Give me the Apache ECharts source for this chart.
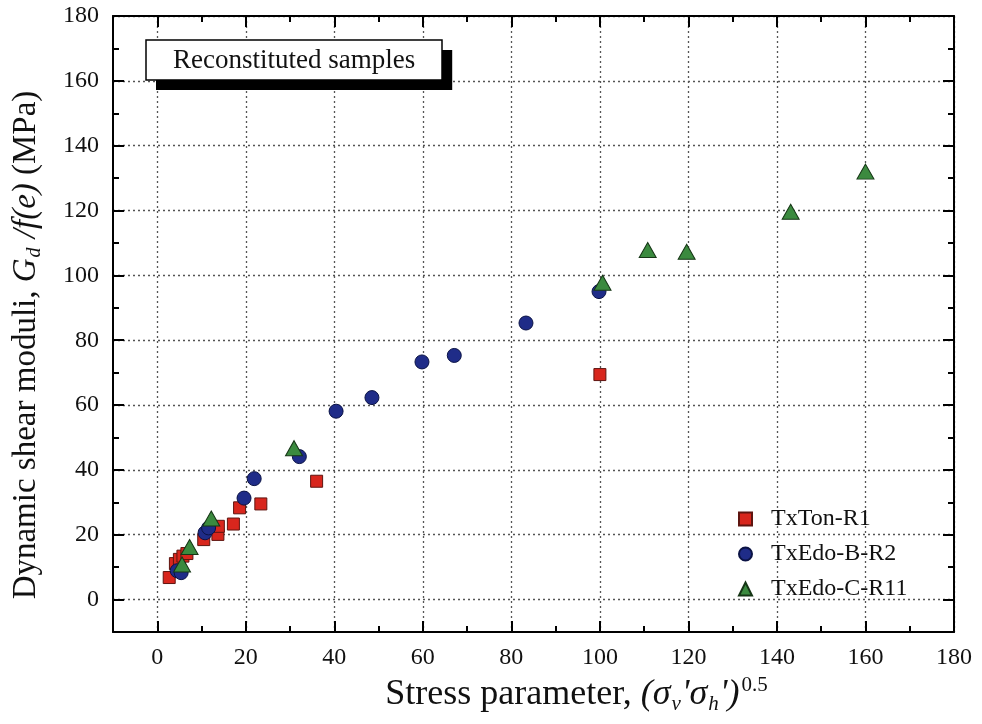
<!DOCTYPE html>
<html>
<head>
<meta charset="utf-8">
<script src="https://cdn.jsdelivr.net/npm/echarts@6/dist/echarts.min.js"></script>
<style>
html,body{margin:0;padding:0;background:#fff;}
#chart{width:982px;height:724px;}
</style>
</head>
<body>
<div id="chart"></div>
<script>
// ---- data ----
const seriesNames = ['TxTon-R1', 'TxEdo-B-R2', 'TxEdo-C-R11'];
const txTonR1 = [
  [2.7, 6.8], [4.1, 11.1], [5.0, 12.4], [5.8, 13.4], [6.7, 14.2],
  [10.5, 18.5], [13.7, 20.1], [13.8, 22.6], [17.2, 23.3], [18.6, 28.3],
  [23.4, 29.5], [36.0, 36.5], [100.0, 69.4]
];
const txEdoBR2 = [
  [4.5, 8.9], [5.4, 8.3], [10.8, 20.6], [11.6, 22.1], [19.6, 31.3],
  [21.9, 37.3], [32.1, 44.1], [40.4, 58.1], [48.5, 62.3], [59.8, 73.3],
  [67.1, 75.3], [83.3, 85.3], [99.8, 95.0]
];
const txEdoCR11 = [
  [5.6, 10.8], [7.3, 16.2], [12.2, 25.0], [30.9, 46.7], [100.6, 97.7],
  [110.8, 107.8], [119.6, 107.3], [143.1, 119.6], [160.0, 132.0]
];
const xTicks = [0, 20, 40, 60, 80, 100, 120, 140, 160, 180];
const yTicks = [0, 20, 40, 60, 80, 100, 120, 140, 160, 180];
const xRange = [-10, 180];
const yRange = [-10, 180];
const boxTitle = 'Reconstituted samples';

// ---- chart ----
const FONT = '"Liberation Serif", "DejaVu Serif", serif';
const chart = echarts.init(document.getElementById('chart'), null, {renderer: 'canvas'});

function majorAxis(pos, range, ticks, labels, extra) {
  return Object.assign({
    type: 'value', position: pos, min: range[0], max: range[1],
    axisLine: {show: true, onZero: false, lineStyle: {color: '#000', width: 2}},
    axisTick: {show: true, inside: true, length: 11, customValues: ticks, lineStyle: {color: '#000', width: 2}},
    axisLabel: labels ? {show: true, customValues: ticks, fontFamily: FONT, fontSize: 24, color: '#111', margin: 14} : {show: false},
    splitLine: {show: false}
  }, extra || {});
}
function minorAxis(pos, range) {
  return {
    type: 'value', position: pos, min: range[0], max: range[1], interval: 10,
    axisLine: {show: false, onZero: false},
    axisTick: {show: true, inside: true, length: 6, lineStyle: {color: '#000', width: 2}},
    axisLabel: {show: false},
    splitLine: {show: false}
  };
}
const gridLine = {show: true, lineStyle: {color: '#555', width: 1.3, type: [2, 3]}};

const xName = 'Stress parameter, {i|(σ}{sub|v}{i|\'σ}{sub|h}{i|\')}{sup|0.5}';
const yName = 'Dynamic shear moduli, {yi|G}{ysub|d}{yi| /f(e)} (MPa)';
const richText = {
  i: {fontFamily: FONT, fontSize: 36, fontStyle: 'italic', lineHeight: 40, color: '#111'},
  sub: {fontFamily: FONT, fontSize: 21, fontStyle: 'italic', lineHeight: 21, padding: [19, 1, 0, 1], color: '#111'},
  sup: {fontFamily: FONT, fontSize: 21, lineHeight: 21, padding: [0, 0, 19, 2], color: '#111'},
  yi: {fontFamily: FONT, fontSize: 33, fontStyle: 'italic', lineHeight: 37, color: '#111'},
  ysub: {fontFamily: FONT, fontSize: 20, fontStyle: 'italic', lineHeight: 20, padding: [17, 1, 0, 1], color: '#111'}
};
const titleText = {fontFamily: FONT, fontSize: 27, fontWeight: 'normal', lineHeight: 30};

const option = {
  backgroundColor: '#fff',
  animation: false,
  title: [
    {
      text: boxTitle,
      left: 156, top: 50, z: 1,
      padding: [5, 27, 5, 27],
      backgroundColor: '#000',
      textStyle: Object.assign({}, titleText, {color: 'rgba(0,0,0,0)'})
    },
    {
      text: boxTitle,
      left: 146, top: 40, z: 4,
      padding: [6, 27, 4, 27],
      backgroundColor: '#fff',
      borderColor: '#000', borderWidth: 1.5,
      textStyle: Object.assign({}, titleText, {color: '#111'})
    }
  ],
  legend: {
    orient: 'vertical', left: 733, top: 502,
    itemWidth: 13, itemHeight: 13, itemGap: 11,
    textStyle: {fontFamily: FONT, fontSize: 24, color: '#111', padding: [0, 0, 0, 14]},
    data: seriesNames
  },
  grid: {left: 113, right: 28, top: 16, bottom: 92, containLabel: false},
  xAxis: [
    majorAxis('bottom', xRange, xTicks, true, {
      splitLine: gridLine,
      name: xName, nameLocation: 'middle', nameGap: 33,
      nameTextStyle: {fontFamily: FONT, fontSize: 36, color: '#111', lineHeight: 40, padding: [0, 0, 0, 86], rich: richText}
    }),
    minorAxis('bottom', xRange),
    majorAxis('top', xRange, xTicks, false),
    minorAxis('top', xRange)
  ],
  yAxis: [
    majorAxis('left', yRange, yTicks, true, {
      splitLine: gridLine,
      name: yName, nameLocation: 'middle', nameGap: 68,
      nameTextStyle: {fontFamily: FONT, fontSize: 33, color: '#111', lineHeight: 37, padding: [0, 42, 0, 0], rich: richText}
    }),
    minorAxis('left', yRange),
    majorAxis('right', yRange, yTicks, false),
    minorAxis('right', yRange)
  ],
  series: [
    {
      name: seriesNames[0], type: 'scatter', data: txTonR1, xAxisIndex: 0, yAxisIndex: 0,
      symbol: 'rect', symbolSize: 12,
      itemStyle: {color: '#d8261d', borderColor: '#5e1510', borderWidth: 1, opacity: 1}
    },
    {
      name: seriesNames[1], type: 'scatter', data: txEdoBR2, xAxisIndex: 0, yAxisIndex: 0,
      symbol: 'circle', symbolSize: 14,
      itemStyle: {color: '#1f2c88', borderColor: '#0b1345', borderWidth: 1, opacity: 1}
    },
    {
      name: seriesNames[2], type: 'scatter', data: txEdoCR11, xAxisIndex: 0, yAxisIndex: 0,
      symbol: 'triangle', symbolSize: [17, 15],
      itemStyle: {color: '#3b8a3f', borderColor: '#163616', borderWidth: 1, opacity: 1}
    }
  ]
};
chart.setOption(option);
</script>
</body>
</html>
